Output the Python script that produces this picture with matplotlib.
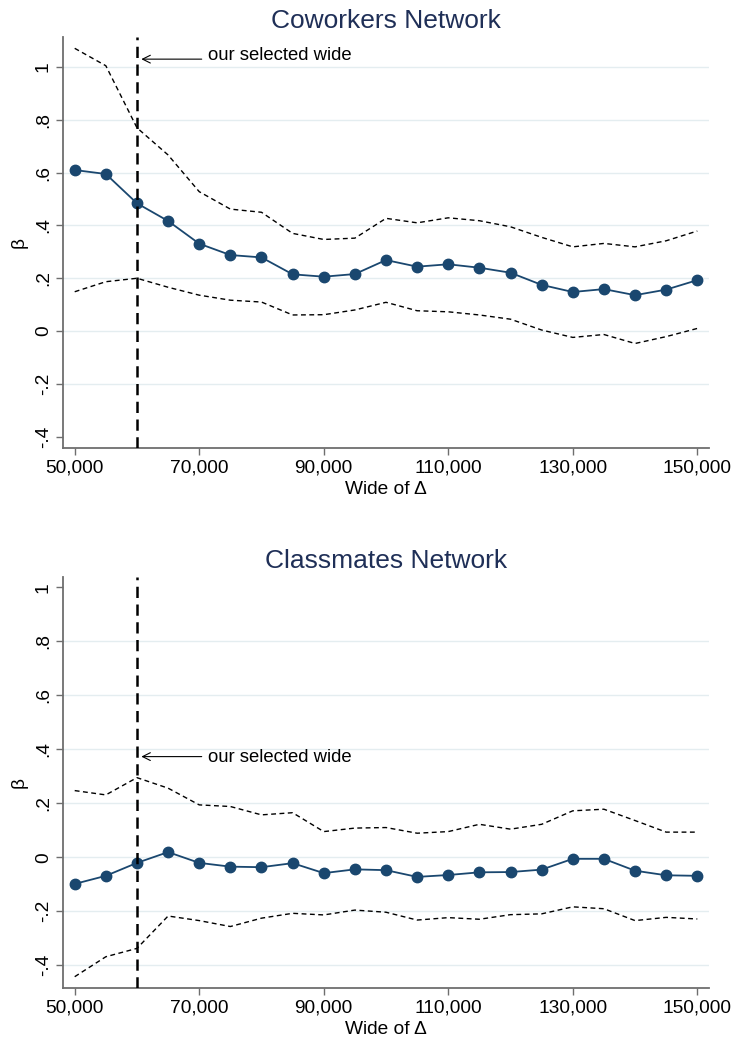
import numpy as np
import matplotlib
matplotlib.use("Agg")
import matplotlib.pyplot as plt

plt.rcParams.update({"font.family": ["Liberation Sans", "DejaVu Sans"]})

NAVY = "#1a476f"
TITLE = "#1f2f57"
GRID = "#e4edf0"
AXC = "#6e6e6e"

wide = np.arange(50000, 150001, 5000)

# coworkers: point estimate and confidence band
cw_b = [0.610, 0.595, 0.484, 0.417, 0.331, 0.288, 0.279, 0.215, 0.206, 0.216, 0.269,
        0.244, 0.253, 0.240, 0.221, 0.175, 0.148, 0.159, 0.136, 0.157, 0.193]
cw_hi = [1.071, 1.005, 0.770, 0.667, 0.528, 0.462, 0.450, 0.370, 0.347, 0.352, 0.427,
         0.410, 0.429, 0.418, 0.395, 0.355, 0.319, 0.332, 0.319, 0.342, 0.379]
cw_lo = [0.149, 0.187, 0.200, 0.166, 0.136, 0.117, 0.110, 0.061, 0.062, 0.080, 0.109,
         0.077, 0.073, 0.061, 0.045, 0.004, -0.024, -0.013, -0.047, -0.021, 0.010]

# classmates
cm_b = [-0.099, -0.069, -0.021, 0.019, -0.021, -0.035, -0.037, -0.022, -0.059, -0.045, -0.048,
        -0.073, -0.066, -0.056, -0.055, -0.046, -0.006, -0.006, -0.050, -0.067, -0.069]
cm_hi = [0.247, 0.231, 0.295, 0.256, 0.194, 0.188, 0.157, 0.165, 0.095, 0.108, 0.110,
         0.089, 0.095, 0.122, 0.104, 0.122, 0.172, 0.178, 0.136, 0.093, 0.093]
cm_lo = [-0.443, -0.369, -0.338, -0.218, -0.235, -0.257, -0.226, -0.208, -0.214, -0.196, -0.204,
         -0.233, -0.224, -0.230, -0.213, -0.210, -0.184, -0.191, -0.235, -0.223, -0.229]

yticks = [-0.4, -0.2, 0, 0.2, 0.4, 0.6, 0.8, 1]
ylabs = ["-.4", "-.2", "0", ".2", ".4", ".6", ".8", "1"]
xticks = [50000, 70000, 90000, 110000, 130000, 150000]
chosen = 60000

W, H = 734, 1038
fig = plt.figure(figsize=(W / 100, H / 100), dpi=100)

def panel(top, title, b, hi, lo, ylim, grids, arrow_y, text_y):
    ax = fig.add_axes([63 / W, 1 - (top + 411.6) / H, 646 / W, 411.6 / H])
    for g in grids:
        ax.axhline(g, color=GRID, lw=1.0, zorder=0)
    ax.plot(wide, hi, color="black", lw=1.0, dashes=(3.5, 2.5), zorder=2)
    ax.plot(wide, lo, color="black", lw=1.0, dashes=(3.5, 2.5), zorder=2)
    ax.plot(wide, b, color=NAVY, lw=1.3, marker="o", ms=7.5, mfc=NAVY, mec=NAVY, zorder=3)
    ax.axvline(chosen, color="black", lw=1.8, dashes=(4.5, 2.6), zorder=4)
    ax.annotate("", xy=(chosen + 700, arrow_y), xytext=(70400, arrow_y),
                arrowprops=dict(arrowstyle="->", color="black", lw=0.8, shrinkA=0, shrinkB=0,
                                mutation_scale=14))
    ax.text(71400, text_y, "our selected wide", fontsize=13.3, va="center", ha="left")
    ax.set_xlim(48120, 151880)
    ax.set_ylim(*ylim)
    ax.set_xticks(xticks)
    ax.set_xticklabels([f"{v:,}" for v in xticks], fontsize=13.8)
    ax.set_yticks(yticks)
    ax.set_yticklabels(ylabs, fontsize=13.8, rotation=90, va="center")
    for s in ("top", "right"):
        ax.spines[s].set_visible(False)
    for s in ("left", "bottom"):
        ax.spines[s].set_color(AXC)
        ax.spines[s].set_linewidth(1.3)
    ax.tick_params(direction="out", length=5, width=1, color=AXC, pad=3)
    ax.set_xlabel("Wide of Δ", fontsize=13.8, labelpad=3)
    ax.set_ylabel("β", fontsize=13.8, labelpad=5)
    ax.set_title(title, fontsize=19, color=TITLE, pad=6)
    return ax

panel(36.7, "Coworkers Network", cw_b, cw_hi, cw_lo, (-0.444, 1.115),
      [-0.2, 0, 0.2, 0.4, 0.6, 0.8, 1.0], 1.03, 1.042)
panel(576.7, "Classmates Network", cm_b, cm_hi, cm_lo, (-0.486, 1.04),
      [-0.4, -0.2, 0, 0.2, 0.4, 0.6, 0.8], 0.373, 0.37)

fig.savefig("out.png", dpi=100)
